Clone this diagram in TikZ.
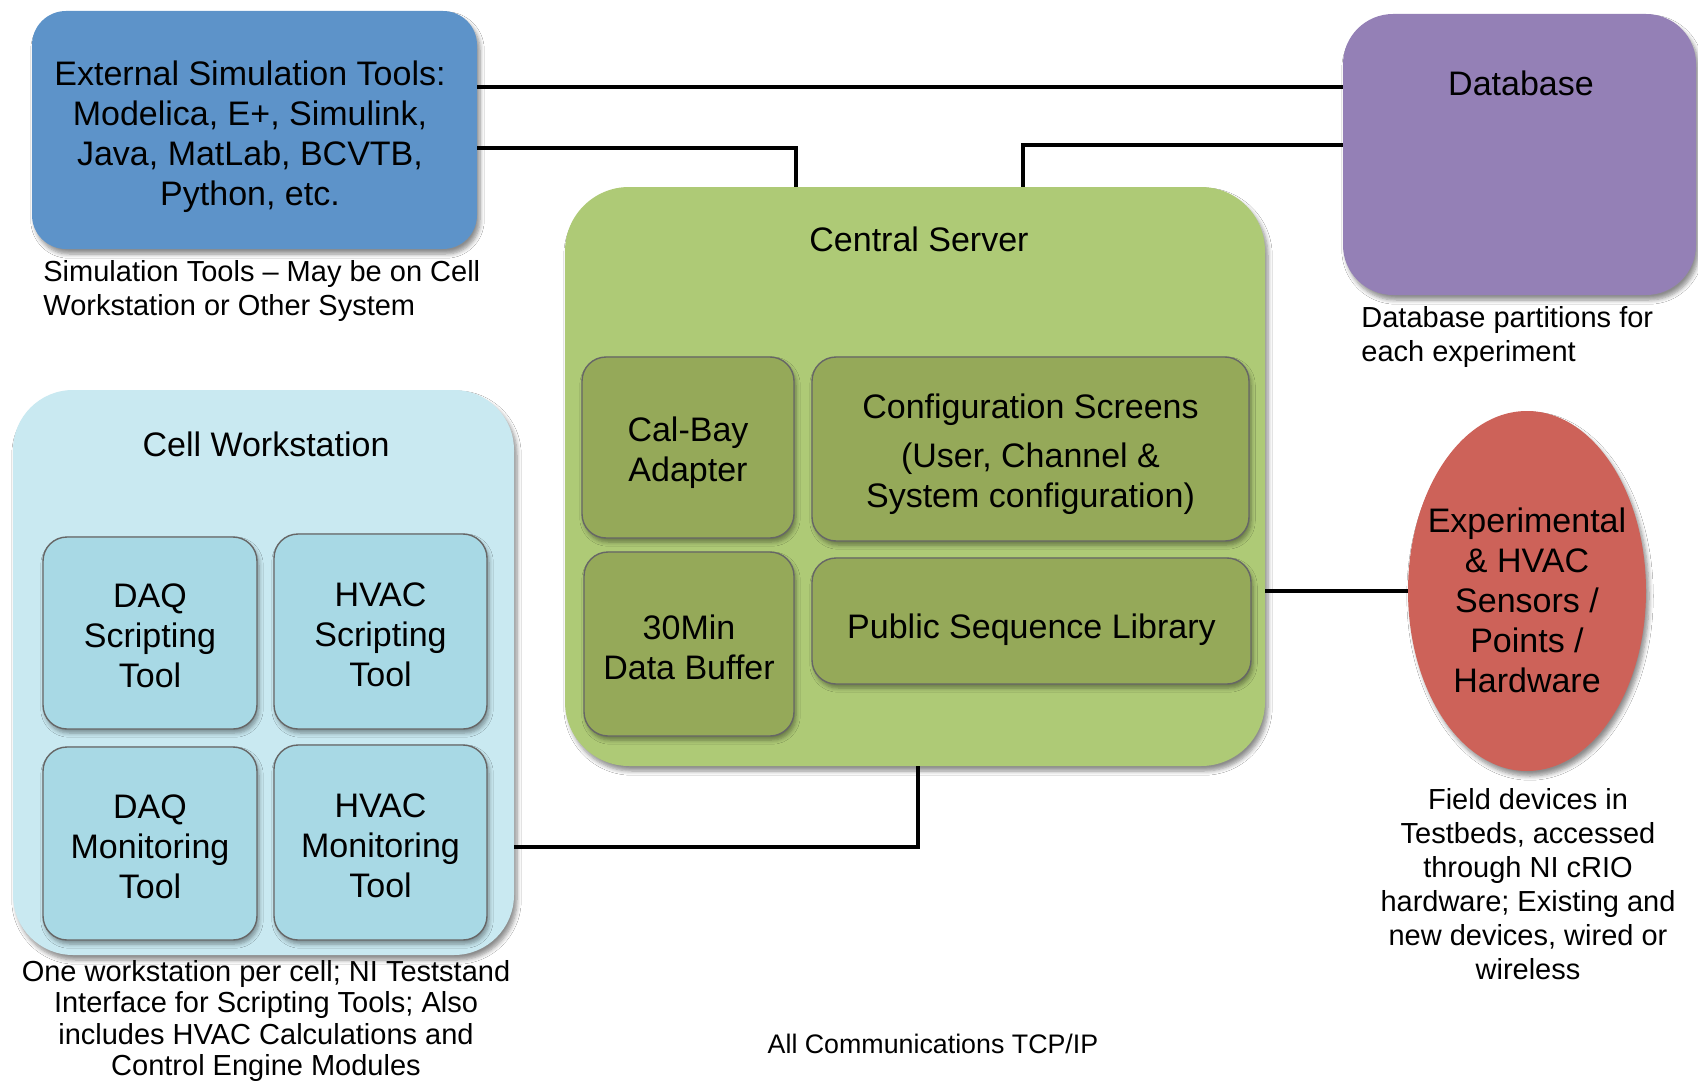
\documentclass[tikz,border=0pt]{standalone}
\usepackage{fontspec}
\setmainfont{Liberation Sans}
\usetikzlibrary{shapes.geometric,shadows.blur}
\definecolor{extblue}{RGB}{93,147,201}
\definecolor{dbpurple}{RGB}{148,128,182}
\definecolor{srvgreen}{RGB}{174,202,118}
\definecolor{srvinner}{RGB}{149,169,89}
\definecolor{cellcyan}{RGB}{201,233,241}
\definecolor{cellinner}{RGB}{168,217,229}
\definecolor{sensred}{RGB}{205,98,89}
\begin{document}
\begin{tikzpicture}[x=0.5pt,y=-0.5pt,
  conn/.style={line width=1.6pt, black},
  bigfont/.style={font=\fontsize{17}{20}\selectfont},
  capfont/.style={font=\fontsize{14.5}{17}\selectfont},
  outerbox/.style={rectangle, inner sep=0pt, draw=none,
    blur shadow={shadow xshift=1.5pt, shadow yshift=-2.5pt, shadow blur steps=6, shadow opacity=45}},
  innerbox/.style={rectangle, rounded corners=12pt, inner sep=0pt, draw=black!60, line width=0.7pt,
    blur shadow={shadow xshift=1pt, shadow yshift=-2pt, shadow blur steps=5, shadow opacity=40}},
  lbl/.style={inner sep=0pt, align=center, bigfont},
  caption/.style={inner sep=0pt, capfont}]
\useasboundingbox[fill=white] (0,0) rectangle (1698,1081);

% helper coordinates for connector routes
\coordinate (ya) at (0,87);
\coordinate (yb) at (0,148);
\coordinate (yc) at (0,145);
\coordinate (xa) at (796,0);
\coordinate (xb) at (1023,0);
\coordinate (xc) at (918,0);
\coordinate (yd) at (0,847);

% outer boxes
\node[outerbox, fill=extblue, rounded corners=17pt, minimum width=222.5pt, minimum height=119pt] (ext) at (254.5,130) {};
\node[outerbox, fill=dbpurple, rounded corners=25pt, minimum width=176.5pt, minimum height=140.5pt] (db) at (1519.5,154.5) {};
\node[outerbox, fill=srvgreen, rounded corners=32pt, minimum width=350pt, minimum height=289.5pt] (srv) at (915,476.5) {};
\node[outerbox, fill=cellcyan, rounded corners=30pt, minimum width=250.5pt, minimum height=282.5pt] (cell) at (263.5,672.5) {};
\node[outerbox, ellipse, fill=sensred, minimum width=119pt, minimum height=180pt] (sens) at (1527,591) {};

% connectors
\draw[conn] (ext.east |- ya) -- (db.west |- ya);
\draw[conn] (ext.east |- yb) -| (srv.north -| xa);
\draw[conn] (db.west |- yc) -| (srv.north -| xb);
\draw[conn] (sens.west) -- (sens.west -| srv.east);
\draw[conn] (srv.south -| xc) |- (cell.east |- yd);

% texts of outer boxes
\node[lbl] (extt) at (250,136.5) {External Simulation Tools:\\Modelica, E+, Simulink,\\Java, MatLab, BCVTB,\\Python, etc.};
\node[lbl] (dbt) at (1521,83) {Database};
\node[lbl] (srvt) at (919,239) {Central Server};
\node[lbl] (cellt) at (266,444) {Cell Workstation};
\node[lbl] (senst) at (1527,600.5) {Experimental\\\& HVAC\\Sensors /\\Points /\\Hardware};

% inner boxes of the server
\node[innerbox, fill=srvinner, minimum width=106pt, minimum height=90.5pt] (calbay) at (688,447.5) {};
\node[innerbox, fill=srvinner, minimum width=218.5pt, minimum height=92pt] (config) at (1030.5,449) {};
\node[innerbox, fill=srvinner, minimum width=105pt, minimum height=92pt] (buf) at (689,644) {};
\node[innerbox, fill=srvinner, minimum width=219.5pt, minimum height=63pt] (pub) at (1031.5,621) {};
\node[lbl, yshift=-2.7pt] (calbayt) at (calbay) {Cal-Bay\\Adapter};
\node[lbl, yshift=-2.7pt] (configt) at (config) {Configuration Screens\\[4.5pt](User, Channel \&\\System configuration)};
\node[lbl, yshift=-1.7pt] (buft) at (buf) {30Min\\Data Buffer};
\node[lbl, yshift=-4.3pt] (pubt) at (pub) {Public Sequence Library};

% inner boxes of the workstation
\node[innerbox, fill=cellinner, minimum width=107pt, minimum height=96pt] (daqs) at (150,633) {};
\node[innerbox, fill=cellinner, minimum width=106.5pt, minimum height=97.5pt] (hvacs) at (380.5,631.5) {};
\node[innerbox, fill=cellinner, minimum width=107pt, minimum height=96.5pt] (daqm) at (150,843.5) {};
\node[innerbox, fill=cellinner, minimum width=106.5pt, minimum height=97.5pt] (hvacm) at (380.5,842.5) {};
\node[lbl, yshift=-1.5pt] (daqst) at (daqs) {DAQ\\Scripting\\Tool};
\node[lbl, yshift=-1.5pt] (hvacst) at (hvacs) {HVAC\\Scripting\\Tool};
\node[lbl, yshift=-1.5pt] (daqmt) at (daqm) {DAQ\\Monitoring\\Tool};
\node[lbl, yshift=-1.5pt] (hvacmt) at (hvacm) {HVAC\\Monitoring\\Tool};

% captions
\node[caption, anchor=west, align=left] (simcap) at (43,291) {Simulation Tools – May be on Cell\\Workstation or Other System};
\node[caption, anchor=west, align=left] (dbcap) at (1361,337) {Database partitions for\\each experiment};
\node[caption, align=center, font=\fontsize{14.5}{15.7}\selectfont] (cellcap) at (266,1021) {One workstation per cell; NI Teststand\\Interface for Scripting Tools; Also\\includes HVAC Calculations and\\Control Engine Modules};
\node[caption, align=center] (senscap) at (1528,884.5) {Field devices in\\Testbeds, accessed\\through NI cRIO\\hardware; Existing and\\new devices, wired or\\wireless};
\node[caption, font=\fontsize{13.4}{16}\selectfont] (allcap) at (933,1044) {All Communications TCP/IP};
\end{tikzpicture}
\end{document}
